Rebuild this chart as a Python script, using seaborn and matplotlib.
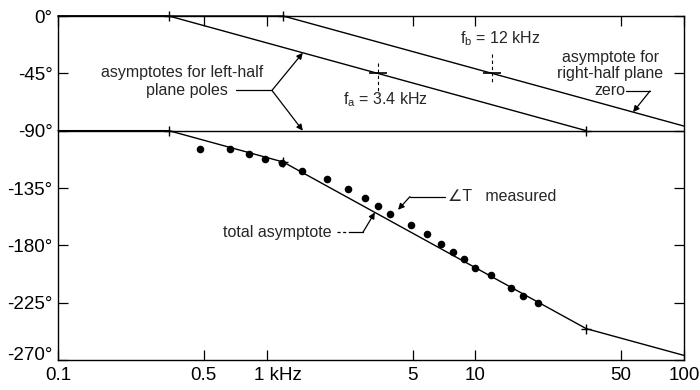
import numpy as np
import matplotlib
matplotlib.use("Agg")
import matplotlib.pyplot as plt
import matplotlib.transforms as mtransforms
from matplotlib.ticker import NullLocator
import seaborn as sns

# Break frequencies (kHz)
FA = 3.4    # left-half-plane pole
FB = 12.0   # right-half-plane zero

# Straight-line phase asymptotes: vertices in kHz and degrees
origin_pole_f = [0.1, 100]
origin_pole_deg = [-90, -90]

pole_a_f = [0.1, 0.34, 34]
pole_a_deg = [0, 0, -90]

zero_b_f = [0.1, 1.2, 100]
zero_b_deg = [0, 0, -86.4]

total_f = [0.1, 0.34, 1.2, 34, 100]
total_deg = [-90, -90, -114.6, -245.4, -266.4]

# Measured loop-gain phase
meas_f = [0.48, 0.67, 0.82, 0.98, 1.18, 1.47, 1.95, 2.45, 2.96, 3.43, 3.90,
          4.91, 5.85, 6.88, 7.84, 8.87, 10.0, 11.9, 14.9, 16.9, 19.9]
meas_deg = [-104, -104.3, -108.5, -112, -115.4, -121.3, -127.8, -135.9, -142.7,
            -149, -155.1, -163.7, -171.2, -179.2, -185.2, -190.4, -197.5,
            -203, -213.6, -220, -225.1]

x_ticks = [0.1, 0.5, 1, 5, 10, 50, 100]
x_ticklabels = ["0.1", "0.5", "1 kHz", "5", "10", "50", "100"]
y_ticks = [0, -45, -90, -135, -180, -225, -270]
y_ticklabels = ["0°", "-45°", "-90°", "-135°", "-180°", "-225°", "-270°"]

sns.set_style("ticks")
plt.rcParams["font.family"] = ["Liberation Sans", "DejaVu Sans"]
plt.rcParams["axes.linewidth"] = 1.0

fig = plt.figure(figsize=(7, 3.9), dpi=100)
ax = fig.add_axes([58 / 700, 1 - 360 / 390, (684 - 58) / 700, (360 - 16) / 390])
ax.set_xscale("log")
ax.set_xlim(0.1, 100)
ax.set_ylim(-270, 0)

LW = 1.0
line_kw = dict(ax=ax, color="black", lw=LW, estimator=None, sort=False,
               legend=False)
for fx, dy in [(origin_pole_f, origin_pole_deg), (pole_a_f, pole_a_deg),
               (zero_b_f, zero_b_deg), (total_f, total_deg)]:
    sns.lineplot(x=fx, y=dy, **line_kw)
for ln in ax.lines:
    ln.set_clip_on(False)

# "+" marks at the corner frequencies
corner_f = [0.34, 1.2, 0.34, 34, 1.2, 34]
corner_deg = [0, 0, -90, -90, -114.6, -245.4]
sns.scatterplot(x=corner_f, y=corner_deg, ax=ax, marker="+", s=55,
                color="black", linewidth=1.0, legend=False, clip_on=False)

# measured points
sns.scatterplot(x=meas_f, y=meas_deg, ax=ax, s=30, color="black",
                edgecolor="black", linewidth=0, legend=False, zorder=5)

# midpoint markers and guides at fa and fb
for fc, lo, hi in [(FA, -36.5, -61.6), (FB, -30, -52)]:
    ax.plot([fc, fc], [lo, hi], color="black", lw=0.8, ls=(0, (3, 2.5)))
    ax.plot([fc], [-45], marker="_", ms=13, mew=1.2, color="black")

# ticks
ax.set_xticks(x_ticks)
ax.set_xticklabels(x_ticklabels)
ax.xaxis.set_minor_locator(NullLocator())
ax.set_yticks(y_ticks)
ax.set_yticklabels(y_ticklabels)
ax.tick_params(axis="both", direction="in", top=True, right=True,
               length=7, width=0.9, labelsize=13.5, colors="black")
ax.tick_params(axis="x", pad=5)
ax.tick_params(axis="y", pad=4)
for sp in ax.spines.values():
    sp.set_color("black")

# nudge the "1 kHz" label so the "1" sits on its tick, lift "-270°"
lab_1k = ax.get_xticklabels()[2]
lab_1k.set_transform(lab_1k.get_transform() +
                     mtransforms.ScaledTranslation(0.11, 0, fig.dpi_scale_trans))
lab_270 = ax.get_yticklabels()[-1]
lab_270.set_transform(lab_270.get_transform() +
                      mtransforms.ScaledTranslation(0, 0.06, fig.dpi_scale_trans))

FS = 11.5
arrow_kw = dict(arrowstyle="-|>", mutation_scale=9, lw=0.9, color="black",
                shrinkA=0, shrinkB=0)


def on_line(f, fx, dy):
    return float(np.interp(np.log10(f), np.log10(fx), dy))


# left-half-plane pole labels
ax.text(0.393, -44, "asymptotes for left-half", ha="center", va="center",
        fontsize=FS)
ax.text(0.417, -58.6, "plane poles", ha="center", va="center", fontsize=FS)
ax.plot([0.71, 1.06], [-58.4, -58.4], color="black", lw=0.9)
ax.annotate("", xy=(1.49, on_line(1.49, pole_a_f, pole_a_deg)),
            xytext=(1.06, -58.4), arrowprops=arrow_kw)
ax.annotate("", xy=(1.49, -90), xytext=(1.06, -58.4), arrowprops=arrow_kw)

# corner frequency labels
ax.text(8.44, -18, r"$\mathregular{f_b}$ = 12 kHz", ha="left", va="center",
        fontsize=FS)
ax.text(2.32, -66, r"$\mathregular{f_a}$ = 3.4 kHz", ha="left", va="center",
        fontsize=FS)

# right-half-plane zero label
ax.text(44.2, -45.5, "asymptote for\nright-half plane\nzero", ha="center",
        va="center", fontsize=FS, linespacing=1.1)
ax.plot([52.7, 68.7], [-58.9, -58.9], color="black", lw=0.9)
ax.annotate("", xy=(57, on_line(57, zero_b_f, zero_b_deg)),
            xytext=(68.7, -58.9), arrowprops=arrow_kw)

# measured-phase label
ax.text(7.4, -141.8, "∠T   measured", ha="left", va="center", fontsize=FS)
ax.plot([7.15, 4.86], [-141.8, -141.8], color="black", lw=0.9)
ax.annotate("", xy=(4.26, -152.1), xytext=(4.86, -141.8), arrowprops=arrow_kw)

# total asymptote label, dashed lead-in then solid leader
ax.text(0.618, -170.3, "total asymptote", ha="left", va="center", fontsize=FS)
ax.plot([2.17, 2.5], [-169.9, -169.9], color="black", lw=0.9,
        ls=(0, (2.5, 2)))
ax.plot([2.5, 2.89], [-169.9, -169.9], color="black", lw=0.9)
ax.annotate("", xy=(3.30, on_line(3.30, total_f, total_deg)),
            xytext=(2.89, -169.9), arrowprops=arrow_kw)

fig.savefig("out.png", dpi=100)
